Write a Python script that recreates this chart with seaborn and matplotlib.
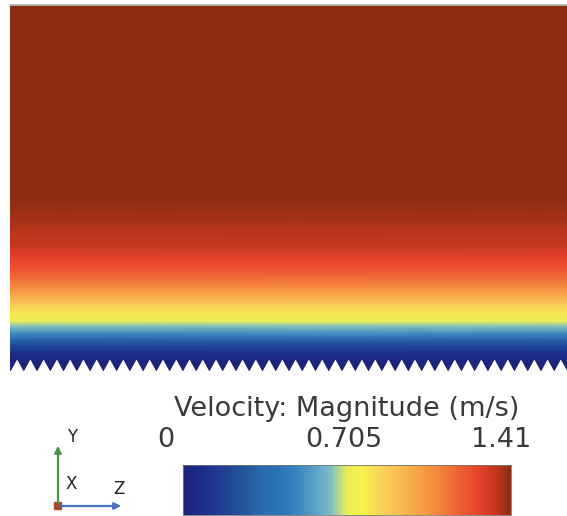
import matplotlib.pyplot as plt
import numpy as np
import seaborn as sns
from matplotlib.cm import ScalarMappable
from matplotlib.colors import Normalize
from matplotlib.patches import Rectangle

sns.set_style('white')
plt.rcParams['font.family'] = ['DejaVu Sans']

# Velocity profile (distance above the rib tips -> |U| in m/s)
height = [0, 11, 19, 26, 33, 39, 45, 50, 58, 66, 78, 91, 101, 111, 124, 141, 161, 176, 366]
velocity = [0.0, 0.03, 0.10, 0.22, 0.38, 0.53, 0.64, 0.72, 0.80, 0.88, 1.02, 1.15,
            1.22, 1.27, 1.33, 1.36, 1.39, 1.41, 1.41]

v_min, v_max = 0.0, 1.41
tick_labels = ['0', '0.705', '1.41']
bar_title = 'Velocity: Magnitude (m/s)'

# rough-wall geometry
n_teeth = 42
tooth_depth = 12
channel_width = 557
channel_height = 366

# blue-yellow-red scale, equally spaced stops
scale_colors = ['#1C2378', '#1C2B85', '#1F3A90', '#1F4A98', '#235C9E', '#2A6DB0',
                '#2C74B8', '#3C86C0', '#5AA0C8', '#7DBDC8', '#E8EE58', '#F8F04A',
                '#F9D65A', '#F8C055', '#F7AA4A', '#F69440', '#F47A3A', '#EF5E33',
                '#E8442A', '#C8371F', '#8A2D12']
cmap = sns.blend_palette(scale_colors, n_colors=256, as_cmap=True)
norm = Normalize(v_min, v_max)

W, H = 567, 516
fig = plt.figure(figsize=(W / 100, H / 100), dpi=100)

# flow field
ax = fig.add_axes([10 / W, 1 - 371 / H, channel_width / W, channel_height / H])
field = np.column_stack([velocity, velocity])
ax.pcolormesh([0, channel_width], height, field, shading='gouraud', cmap=cmap, norm=norm)

# saw-tooth wall at the bottom
x_saw = np.linspace(0, channel_width, 2 * n_teeth + 1)
y_saw = np.where(np.arange(2 * n_teeth + 1) % 2 == 1, tooth_depth, 0)
ax.fill_between(x_saw, -2, y_saw, color='white', lw=0)
ax.set_xlim(0, channel_width)
ax.set_ylim(0, channel_height)
ax.set_xticks([])
ax.set_yticks([])
for side in ['left', 'right', 'bottom']:
    ax.spines[side].set_visible(False)
ax.spines['top'].set_color('#B8B8B0')
ax.spines['top'].set_linewidth(1.2)

# colour bar
cax = fig.add_axes([183 / W, 1 - 515 / H, 328 / W, 50 / H])
cb = fig.colorbar(ScalarMappable(norm=norm, cmap=cmap), cax=cax, orientation='horizontal')
cb.set_ticks([])
cb.outline.set_linewidth(0.6)
cb.outline.set_edgecolor('#777777')

txt = dict(fontsize=19.5, color='#3A3A3A', va='baseline')
fig.text(347 / W, 1 - 416 / H, bar_title, ha='center', **txt)
fig.text(157 / W, 1 - 447 / H, tick_labels[0], ha='left', **txt)
fig.text(344 / W, 1 - 447 / H, tick_labels[1], ha='center', **txt)
fig.text(531 / W, 1 - 447 / H, tick_labels[2], ha='right', **txt)

# orientation triad
ov = fig.add_axes([0, 0, 1, 1])
ov.set_xlim(0, W)
ov.set_ylim(H, 0)
ov.axis('off')
ov.patch.set_alpha(0)
ov.annotate('', xy=(58, 443), xytext=(58, 506),
            arrowprops=dict(arrowstyle='-|>', color='#4A944A', lw=1.6, mutation_scale=10))
ov.annotate('', xy=(124, 506), xytext=(58, 506),
            arrowprops=dict(arrowstyle='-|>', color='#4A72C2', lw=1.6, mutation_scale=10))
ov.add_patch(Rectangle((54, 502), 7, 7, color='#A04A2E'))
ov.text(72, 437, 'Y', ha='center', va='center', fontsize=12, color='#222222')
ov.text(71, 484, 'X', ha='center', va='center', fontsize=12, color='#222222')
ov.text(119, 489, 'Z', ha='center', va='center', fontsize=12, color='#222222')

fig.savefig('out.png', dpi=100)
